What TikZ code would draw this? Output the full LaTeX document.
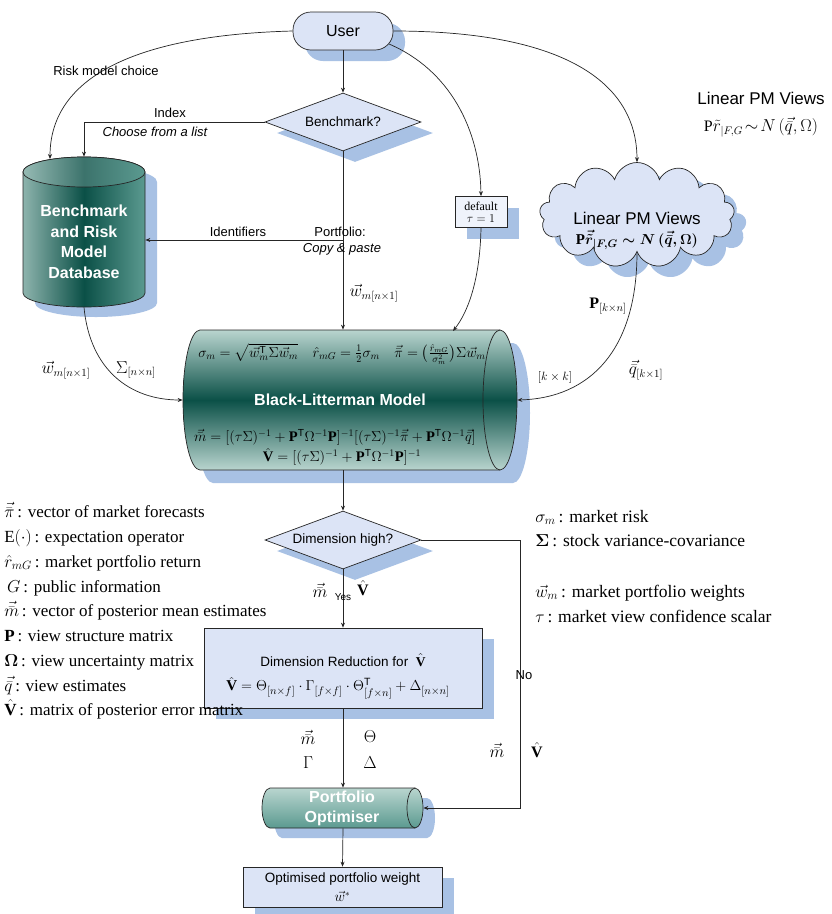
\documentclass[tikz,border=0pt]{standalone}
\usepackage{amsmath,amssymb}
\usepackage{fontspec}
\setmainfont{Liberation Serif}
\setsansfont{Liberation Sans}
\usetikzlibrary{shapes.geometric,shapes.symbols,arrows.meta,shadows}
\definecolor{nodefill}{HTML}{DCE4F6}
\definecolor{shadowc}{HTML}{A8C1E4}
\definecolor{tealdark}{HTML}{0B5047}
\definecolor{teallight}{HTML}{B9D5CF}
\definecolor{tealmid}{HTML}{5B9A90}
\definecolor{linec}{HTML}{262626}
\tikzset{
  arr/.style={-{Stealth[length=5pt,width=4pt]},line width=0.7pt,draw=linec},
  shad/.style={drop shadow={shadow xshift=12pt,shadow yshift=-11pt,fill=shadowc,opacity=1}},
  lab/.style={font=\sffamily\fontsize{13}{15}\selectfont,inner sep=0pt},
  labi/.style={font=\sffamily\itshape\fontsize{13}{15}\selectfont,inner sep=0pt},
  mlab/.style={font=\fontsize{16}{18}\selectfont,inner sep=0pt},
  leg/.style={font=\fontsize{17}{19}\selectfont,anchor=base west,inner sep=0pt},
  legr/.style={font=\fontsize{17.5}{19}\selectfont,anchor=base west,inner sep=0pt},
  boxnode/.style={draw=linec,fill=nodefill,line width=0.7pt,shad},
  ddiam/.style={diamond,aspect=2.7,boxnode,inner sep=0pt,font=\sffamily\fontsize{13.5}{15}\selectfont,minimum width=156pt,minimum height=58pt},
  whitetxt/.style={text=white,font=\sffamily\bfseries\fontsize{16}{20.5}\selectfont,align=center},
  blform/.style={font=\fontsize{14.6}{17}\selectfont,inner sep=0pt},
  dbshape/.style={insert path={(23,172) -- (23,293) .. controls (23,300.7) and (50.3,307) .. (84,307) .. controls (117.7,307) and (145,300.7) .. (145,293) -- (145,172) .. controls (145,163.7) and (117.7,157) .. (84,157) .. controls (50.3,157) and (23,163.7) .. (23,172) -- cycle}},
  blshape/.style={insert path={(200,330) -- (500,330) .. controls (509.4,330) and (517,361.3) .. (517,400) .. controls (517,438.7) and (509.4,470) .. (500,470) -- (200,470) .. controls (190.6,470) and (183,438.7) .. (183,400) .. controls (183,361.3) and (190.6,330) .. (200,330) -- cycle}},
  optshape/.style={insert path={(270,788) -- (415,788) .. controls (419.4,788) and (423,797) .. (423,808) .. controls (423,819) and (419.4,828) .. (415,828) -- (270,828) .. controls (265.6,828) and (262,819) .. (262,808) .. controls (262,797) and (265.6,788) .. (270,788) -- cycle}},
}
\begin{document}
\begin{tikzpicture}[x=1pt,y=-1pt,line width=0.7pt]
\useasboundingbox (0,0) rectangle (831,914);
\fill[white] (0,0) rectangle (831,914);

% ---------- User and Benchmark
\node[boxnode,rounded corners=18pt,minimum width=100pt,minimum height=38pt,font=\sffamily\fontsize{16}{18}\selectfont] (user) at (343,31) {User};
\node[ddiam] (bench) at (343,122) {Benchmark?};

% ---------- Database cylinder
\node[minimum width=122pt,minimum height=150pt,inner sep=0pt] (db) at (84,232) {};
\begin{scope}[shift={(12,10)}]
  \fill[shadowc,dbshape];
\end{scope}
\path[draw=linec,left color=teallight!75!tealdark,right color=tealmid,middle color=tealdark,dbshape];
\path[draw=linec,left color=teallight!80!tealdark,right color=tealmid,middle color=tealdark!80!white]
  (23,172) .. controls (23,180.3) and (50.3,187) .. (84,187) .. controls (117.7,187) and (145,180.3) .. (145,172)
  .. controls (145,163.7) and (117.7,157) .. (84,157) .. controls (50.3,157) and (23,163.7) .. (23,172) -- cycle;
\node[whitetxt] at (84,242) {Benchmark\\and Risk\\Model\\Database};

% ---------- Default box and cloud
\node[boxnode,fill=nodefill!45!white,minimum width=52pt,minimum height=31pt,inner sep=1pt,align=center,font=\fontsize{12}{12}\selectfont] (dflt) at (481,212) {default\\$\tau=1$};
\node[cloud,cloud puffs=13,cloud ignores aspect,boxnode,minimum width=195pt,minimum height=105pt] (cloud) at (637,215) {};
\node[font=\sffamily\fontsize{17}{21}\selectfont] at (637,218) {Linear PM Views};
\node[font=\fontsize{15}{17}\selectfont] at (637,240) {$\mathbf{P}\boldsymbol{\vec{\tilde r}_{|F,G}\sim N\,(\vec{\bar q},\Omega)}$};

\node[font=\sffamily\fontsize{17}{21}\selectfont] at (761,98) {Linear PM Views};
\node[font=\fontsize{16}{18}\selectfont] at (761,127) {$\mathrm{P}\tilde r_{|F,G}\!\sim\! N\,(\vec{\bar q},\Omega)$};

% ---------- Black-Litterman cylinder
\node[minimum width=334pt,minimum height=140pt,inner sep=0pt] (bl) at (350,400) {};
\begin{scope}[shift={(13,13)}]
  \fill[shadowc,blshape];
\end{scope}
\path[draw=linec,top color=teallight,bottom color=teallight,middle color=tealdark,blshape];
\draw[linec] (500,330) .. controls (490.6,330) and (483,361.3) .. (483,400) .. controls (483,438.7) and (490.6,470) .. (500,470);
\node[blform] at (342,354) {$\sigma_m=\sqrt{\vec w_m^{\mathsf T}\Sigma\vec w_m}\quad\hat r_{mG}=\tfrac{1}{2}\sigma_m\quad\vec{\bar\pi}=\bigl(\tfrac{\hat r_{mG}}{\sigma_m^{2}}\bigr)\Sigma\vec w_m$};
\node[whitetxt] at (340,400) {Black-Litterman Model};
\node[blform] at (335,437) {$\vec{\bar m}=[(\tau\Sigma)^{-1}+\mathbf P^{\mathsf T}\Omega^{-1}\mathbf P]^{-1}[(\tau\Sigma)^{-1}\vec{\bar\pi}+\mathbf P^{\mathsf T}\Omega^{-1}\vec{\bar q}]$};
\node[blform] at (342,457) {$\hat{\mathbf V}=[(\tau\Sigma)^{-1}+\mathbf P^{\mathsf T}\Omega^{-1}\mathbf P]^{-1}$};

% ---------- Lower flow
\node[ddiam] (dim) at (343,540) {Dimension high?};
\node[boxnode,minimum width=278pt,minimum height=80pt] (dimred) at (343,668) {};
\node[font=\sffamily\fontsize{13.5}{15}\selectfont] at (343,660) {Dimension Reduction for \ $\hat{\mathbf V}$};
\node[font=\fontsize{15}{17}\selectfont] at (338,688) {$\hat{\mathbf V}=\Theta_{[n\times f]}\cdot\Gamma_{[f\times f]}\cdot\Theta^{\mathsf T}_{[f\times n]}+\Delta_{[n\times n]}$};

\node[minimum width=161pt,minimum height=40pt,inner sep=0pt] (opt) at (342.5,808) {};
\begin{scope}[shift={(12,10)}]
  \fill[shadowc,optshape];
\end{scope}
\path[draw=linec,top color=teallight,middle color=tealdark,bottom color=tealmid,optshape];
\draw[linec] (415,788) .. controls (410.6,788) and (407,797) .. (407,808) .. controls (407,819) and (410.6,828) .. (415,828);
\node[whitetxt,font=\sffamily\bfseries\fontsize{16}{20}\selectfont] at (342,808) {Portfolio\\Optimiser};

\node[boxnode,minimum width=199pt,minimum height=40pt,align=center,inner sep=1pt,font=\sffamily\fontsize{13.5}{19}\selectfont] (final) at (342.5,887) {Optimised portfolio weight\\ $\vec w^{*}$};

% ---------- Connectors
\coordinate (uSE) at (389,44);
\coordinate (dbRisk) at (50,159);
\coordinate (blTR) at (453,331);
\coordinate (idf) at (343,240);
\coordinate (noC) at (520,540);

\draw[arr] (user.south) -- (bench.north);
\draw[arr] (user.west) .. controls (140,35) and (50,75) .. (dbRisk);
\draw[arr] (bench.west) -| (db.north);
\draw[arr] (user.east) .. controls (560,31) and (637,80) .. (cloud.north);
\draw[arr] (uSE) .. controls (450,70) and (480,130) .. (dflt.north);
\draw[arr] (dflt.south) .. controls (480,280) and (468,312) .. (blTR);
\draw[arr] (cloud.south) .. controls (637,350) and (590,398) .. (bl.east);
\draw[arr] (db.south) .. controls (90,370) and (130,400) .. (bl.west);
\draw[arr] (bench.south) -- (bench.south |- bl.north);
\draw[arr] (idf) -- (idf -| db.east);
\draw[arr] (bl.south -| bench.south) -- (dim.north);
\draw[arr] (dim.south) -- (dimred.north);
\draw[arr] (dim.east) -- (noC) |- (opt.east);
\draw[arr] (dimred.south) -- (dimred.south |- opt.north);
\draw[arr] (dimred.south |- opt.south) -- (final.north);

% ---------- Connector labels
\node[lab] at (106,71) {Risk model choice};
\node[lab] at (170,113) {Index};
\node[labi] at (155,132) {Choose from a list};
\node[lab] at (238,232) {Identifiers};
\node[lab] at (340,232) {Portfolio:};
\node[labi] at (342,249) {Copy \& paste};
\node[mlab] at (374,293) {$\vec w_{m[n\times1]}$};
\node[mlab] at (608,306) {$\mathbf P_{[k\times n]}$};
\node[mlab,font=\fontsize{13}{15}\selectfont] at (555,377) {$[k\times k]$};
\node[mlab] at (646,370) {$\vec{\bar q}_{[k\times1]}$};
\node[mlab] at (66,370) {$\vec w_{m[n\times1]}$};
\node[mlab] at (136,370) {$\Sigma_{[n\times n]}$};
\node[mlab] at (320,590) {$\vec{\bar m}$};
\node[lab,font=\sffamily\fontsize{10}{12}\selectfont] at (343,597) {Yes};
\node[mlab] at (363,588) {$\hat{\mathbf V}$};
\node[lab] at (524,675) {No};
\node[mlab] at (308,737) {$\vec{\bar m}$};
\node[mlab] at (370,737) {$\Theta$};
\node[mlab] at (308,763) {$\Gamma$};
\node[mlab] at (370,763) {$\Delta$};
\node[mlab] at (497,750) {$\vec{\bar m}$};
\node[mlab] at (537,750) {$\hat{\mathbf V}$};

% ---------- Legends
\node[leg] at (4,517) {$\vec{\bar\pi}$\,: vector of market forecasts};
\node[leg] at (4,542) {E$(\cdot)$\,: expectation operator};
\node[leg] at (4,567) {$\hat r_{mG}$\,: market portfolio return};
\node[leg] at (4,592) {\,$G$\,: public information};
\node[leg] at (4,616) {$\vec{\bar m}$\,: vector of posterior mean estimates};
\node[leg] at (4,641) {$\mathbf P$\,: view structure matrix};
\node[leg] at (4,666) {$\boldsymbol\Omega$\,: view uncertainty matrix};
\node[leg] at (4,691) {$\vec{\bar q}$\,: view estimates};
\node[leg] at (4,715) {$\hat{\mathbf V}$\,: matrix of posterior error matrix};

\node[legr] at (535,522) {$\sigma_m$\,: market risk};
\node[legr] at (535,546) {$\boldsymbol\Sigma$\,: stock variance-covariance};
\node[legr] at (535,597) {$\vec w_m$\,: market portfolio weights};
\node[legr] at (535,622) {$\tau$\,: market view confidence scalar};
\end{tikzpicture}
\end{document}
